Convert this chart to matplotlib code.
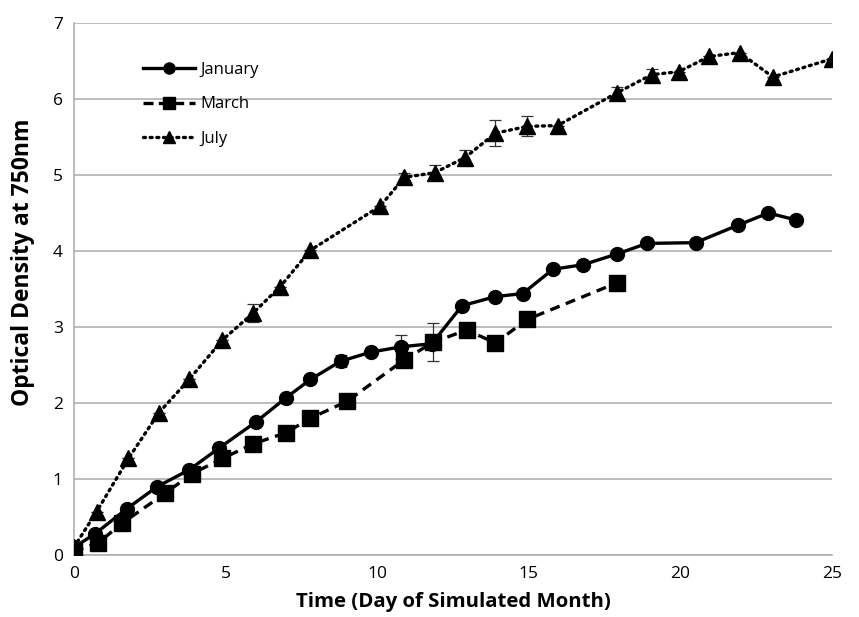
import numpy as np
import matplotlib.pyplot as plt
from matplotlib.lines import Line2D

plt.rcParams['font.family'] = ['Open Sans', 'DejaVu Sans']

# January (circles, solid)
jan_x = [0, 0.7, 1.75, 2.75, 3.8, 4.8, 6.0, 7.0, 7.8, 8.8, 9.8, 10.8, 11.8, 12.8, 13.9, 14.8, 15.8, 16.8, 17.9, 18.9, 20.5, 21.9, 22.9, 23.8]
jan_y = [0.1, 0.28, 0.61, 0.9, 1.12, 1.41, 1.75, 2.07, 2.31, 2.55, 2.67, 2.74, 2.78, 3.28, 3.4, 3.44, 3.76, 3.82, 3.96, 4.1, 4.11, 4.34, 4.5, 4.41]
jan_err = [0, 0, 0, 0, 0, 0, 0, 0, 0, 0.08, 0, 0.16, 0, 0, 0, 0, 0, 0, 0, 0, 0, 0, 0, 0]

# March (squares, dashed)
mar_x = [0, 0.8, 1.6, 3.0, 3.9, 4.9, 5.9, 7.0, 7.8, 9.0, 10.9, 11.85, 12.95, 13.9, 14.95, 17.9]
mar_y = [0.05, 0.16, 0.42, 0.81, 1.07, 1.27, 1.46, 1.61, 1.8, 2.02, 2.57, 2.8, 2.96, 2.79, 3.1, 3.58]
mar_err = [0, 0, 0, 0, 0, 0, 0, 0, 0, 0, 0, 0.25, 0, 0, 0, 0]

# July (triangles, dotted)
jul_x = [0, 0.75, 1.8, 2.8, 3.8, 4.9, 5.9, 6.8, 7.8, 10.1, 10.9, 11.9, 12.9, 13.9, 14.95, 15.95, 17.9, 19.05, 19.95, 20.95, 21.95, 23.05, 25.0]
jul_y = [0.1, 0.57, 1.27, 1.87, 2.31, 2.83, 3.18, 3.53, 4.01, 4.59, 4.97, 5.03, 5.23, 5.55, 5.64, 5.65, 6.08, 6.32, 6.36, 6.56, 6.61, 6.29, 6.53]
jul_err = [0, 0, 0, 0, 0, 0, 0.12, 0, 0, 0, 0.05, 0.1, 0.1, 0.17, 0.13, 0, 0.08, 0.07, 0, 0, 0, 0, 0]

fig = plt.figure(figsize=(8.59, 6.17), dpi=100)
ax = fig.add_axes([0.086, 0.1005, 0.8826, 0.8622])

eb = dict(color='black', lw=2.4, ecolor='#333333', elinewidth=0.9, capsize=4, capthick=0.9, zorder=3)
ax.errorbar(jan_x, jan_y, yerr=jan_err, ls='-', marker='o', ms=10, **eb)
ax.errorbar(mar_x, mar_y, yerr=mar_err, ls=(0, (3, 2)), marker='s', ms=11, **eb)
ax.errorbar(jul_x, jul_y, yerr=jul_err, ls=(0, (0.6, 1.4)), marker='^', ms=11,
            dash_capstyle='round', **eb)

ax.set_xlim(0, 25)
ax.set_ylim(0, 7)
ax.set_xticks(range(0, 26, 5))
ax.set_yticks(range(0, 8))
ax.grid(axis='y', color='#b0b0b0', lw=1.2)
ax.set_axisbelow(True)
ax.tick_params(length=0, labelsize=12.5, pad=8)
for s in ['top', 'right']:
    ax.spines[s].set_visible(False)
for s in ['left', 'bottom']:
    ax.spines[s].set_color('#b0b0b0')
    ax.spines[s].set_linewidth(1.2)

ax.set_xlabel('Time (Day of Simulated Month)', fontsize=14.7, fontweight='bold', labelpad=7)
ax.set_ylabel('Optical Density at 750nm', fontsize=16.5, fontweight='bold')
ax.yaxis.set_label_coords(-0.051, 0.55)

handles = [
    Line2D([], [], color='black', lw=2.4, ls='-', marker='o', ms=8),
    Line2D([], [], color='black', lw=2.4, ls=(0, (3, 1.6)), marker='s', ms=8),
    Line2D([], [], color='black', lw=2.4, ls=(0, (0.6, 1.4)), marker='^', ms=8, dash_capstyle='round'),
]
ax.legend(handles, ['January', 'March', 'July'], loc='upper left', bbox_to_anchor=(0.083, 0.94),
          borderaxespad=0, frameon=False, fontsize=12, handlelength=3.1,
          labelspacing=1.13, handletextpad=0.3)

fig.savefig('out.png', dpi=100)
